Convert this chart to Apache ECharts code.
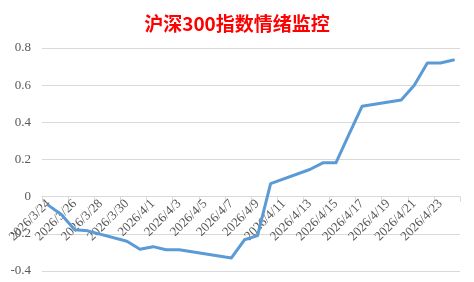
<!DOCTYPE html>
<html>
<head>
<meta charset="utf-8">
<script src="https://cdn.jsdelivr.net/npm/echarts@6/dist/echarts.min.js"></script>
<style>
html,body{margin:0;padding:0;background:#fff;}
#c{width:474px;height:282px;}
</style>
</head>
<body>
<div id="c"></div>
<script>
var titleText = '沪深300指数情绪监控';
var categories = [
  '2026/3/24','2026/3/25','2026/3/26','2026/3/27','2026/3/28','2026/3/29','2026/3/30','2026/3/31',
  '2026/4/1','2026/4/2','2026/4/3','2026/4/4','2026/4/5','2026/4/6','2026/4/7','2026/4/8',
  '2026/4/9','2026/4/10','2026/4/11','2026/4/12','2026/4/13','2026/4/14','2026/4/15','2026/4/16',
  '2026/4/17','2026/4/18','2026/4/19','2026/4/20','2026/4/21','2026/4/22','2026/4/23','2026/4/24'
];
// non-trading days are null (line connects across them)
var sentiment = [
  -0.047, -0.097, -0.178, -0.184, null, null, -0.240, -0.283,
  -0.269, -0.286, -0.286, null, null, null, -0.330, -0.232,
  -0.210, 0.070, null, null, 0.146, 0.182, 0.182, 0.335,
  0.486, null, null, 0.520, 0.600, 0.719, 0.719, 0.735
];
var yMin = -0.4, yMax = 0.8, yStep = 0.2;

var gridTop = 48, gridBottom = 11, chartH = 282;
var plotH = chartH - gridTop - gridBottom;
// place the category axis where the value axis crosses zero (like Excel)
var zeroOffset = -plotH * (0 - yMin) / (yMax - yMin);

var chart = echarts.init(document.getElementById('c'), null, {renderer: 'canvas'});
chart.setOption({
  animation: false,
  backgroundColor: '#ffffff',
  title: {
    text: titleText,
    left: 'center',
    top: 9,
    textStyle: {
      color: '#ff0000',
      fontSize: 19,
      fontWeight: 'bold',
      fontFamily: '"Noto Sans CJK SC", sans-serif'
    }
  },
  grid: {left: 42, right: 14, top: gridTop, bottom: gridBottom, containLabel: false, outerBoundsMode: 'none'},
  xAxis: {
    type: 'category',
    data: categories,
    boundaryGap: true,
    offset: zeroOffset,
    axisLine: {onZero: false, lineStyle: {color: '#d9d9d9', width: 1}},
    axisTick: {show: true, interval: 1, length: 5, lineStyle: {color: '#d9d9d9'}},
    axisLabel: {
      interval: 1,
      rotate: 45,
      margin: 5,
      color: '#595959',
      fontSize: 13,
      fontFamily: '"Liberation Serif", serif'
    },
    splitLine: {show: false}
  },
  yAxis: {
    type: 'value',
    min: yMin,
    max: yMax,
    interval: yStep,
    axisLine: {show: false},
    axisTick: {show: false},
    axisLabel: {
      margin: 11,
      color: '#595959',
      fontSize: 13,
      fontFamily: '"Liberation Serif", serif',
      formatter: function (v) { return String(Math.round(v * 10) / 10); }
    },
    splitLine: {lineStyle: {color: '#d9d9d9', width: 1}}
  },
  series: [{
    type: 'line',
    data: sentiment,
    connectNulls: true,
    showSymbol: false,
    symbol: 'none',
    lineStyle: {color: '#5b9bd5', width: 3, join: 'round', cap: 'round'},
    itemStyle: {color: '#5b9bd5'},
    z: 5
  }]
});
</script>
</body>
</html>
